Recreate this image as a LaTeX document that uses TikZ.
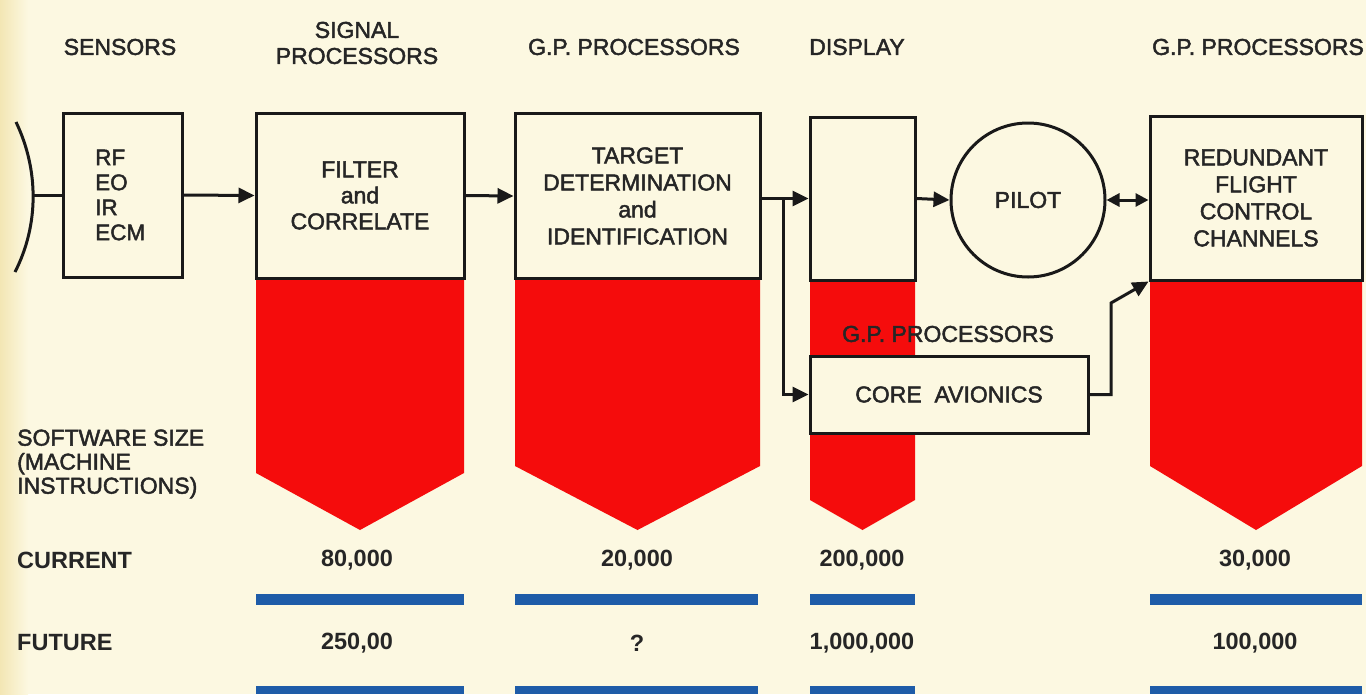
\documentclass[tikz,border=0pt]{standalone}
\usepackage{fontspec}
\setmainfont{Liberation Sans}
\newfontfamily\medfont{Liberation Sans}[FakeBold=2]
\usetikzlibrary{arrows.meta}
\definecolor{cream}{RGB}{252,248,225}
\definecolor{edge}{RGB}{243,230,180}
\definecolor{redfill}{RGB}{245,12,12}
\definecolor{bluebar}{RGB}{30,92,168}
\definecolor{ink}{RGB}{38,38,38}
\tikzset{
  box/.style={draw=black!90, line width=3pt, fill=cream, rectangle, inner sep=0pt},
  lbl/.style={text=ink, font=\medfont\fontsize{23}{26}\selectfont, align=center, inner sep=0pt},
  num/.style={text=ink, font=\bfseries\fontsize{23.5}{26}\selectfont, inner sep=0pt},
  conn/.style={line width=3pt, draw=black!90},
  arr/.style={conn, -{Triangle[length=16pt,width=15pt]}},
  darr/.style={conn, {Triangle[length=13pt,width=13pt]}-{Triangle[length=13pt,width=13pt]}},
  redshape/.style={fill=redfill},
  bar/.style={fill=bluebar}
}
\begin{document}
\begin{tikzpicture}[x=1pt,y=-1pt]
\useasboundingbox (0,0) rectangle (1366,694);
\fill[cream] (0,0) rectangle (1366,694);
\shade[left color=edge, right color=cream] (0,0) rectangle (28,694);

% red software-size pentagons
\fill[redshape] (256,278) -- (464,278) -- (464,473) -- (360,530) -- (256,473) -- cycle;
\fill[redshape] (515,278) -- (760,278) -- (760,466) -- (637.5,530) -- (515,466) -- cycle;
\fill[redshape] (810,280) -- (915,280) -- (915,500) -- (862.5,530) -- (810,500) -- cycle;
\fill[redshape] (1150,280) -- (1362,280) -- (1362,466) -- (1256,530) -- (1150,466) -- cycle;

% blue bars
\fill[bar] (256,594) rectangle (464,605);
\fill[bar] (515,594) rectangle (758,605);
\fill[bar] (810,594) rectangle (915,605);
\fill[bar] (1150,594) rectangle (1362,605);
\fill[bar] (256,686) rectangle (464,694);
\fill[bar] (515,686) rectangle (758,694);
\fill[bar] (810,686) rectangle (915,694);
\fill[bar] (1150,686) rectangle (1362,694);

% headers
\node[lbl] (hsens) at (120,47) {SENSORS};
\node[lbl] (hsig) at (357,43) {SIGNAL\\PROCESSORS};
\node[lbl] (hgp1) at (634,47) {G.P. PROCESSORS};
\node[lbl] (hdisp) at (857,47) {DISPLAY};
\node[lbl] (hgp2) at (1258,47) {G.P. PROCESSORS};

% antenna
\draw[conn] (16,122) .. controls (39,170) and (39,225) .. (15,272);
\coordinate (ant) at (33,195);

% boxes
\node[box, minimum width=119pt, minimum height=164pt] (sens) at (122.5,195) {};
\node[lbl, anchor=west, align=left, font=\medfont\fontsize{22.5}{25}\selectfont] (senstxt) at (95,195) {RF\\EO\\IR\\ECM};
\node[box, minimum width=208pt, minimum height=165pt, lbl, font=\medfont\fontsize{23}{26}\selectfont] (filt) at (360,195.5) {FILTER\\and\\CORRELATE};
\node[box, minimum width=245pt, minimum height=165pt, lbl, font=\medfont\fontsize{23}{27}\selectfont] (tgt) at (637.5,196) {TARGET\\DETERMINATION\\and\\IDENTIFICATION};
\node[box, minimum width=105pt, minimum height=163pt] (disp) at (862.5,198.5) {};
\node[box, circle, minimum size=154pt, lbl] (pilot) at (1028,200) {PILOT};
\node[box, minimum width=212pt, minimum height=164pt, lbl, font=\medfont\fontsize{23}{27}\selectfont] (flight) at (1256,198) {REDUNDANT\\FLIGHT\\CONTROL\\CHANNELS};
\node[lbl] (hgp3) at (948,334) {G.P. PROCESSORS};
\node[box, minimum width=278pt, minimum height=77pt, lbl] (core) at (949,394.5) {CORE\ \ AVIONICS};

% connectors
\draw[conn] (ant) -- (sens.west);
\draw[arr] (sens.east) -- (filt.west);
\draw[arr] (filt.east) -- (tgt.west);
\coordinate (br) at (783,198.5);
\draw[arr] (disp.west -| tgt.east) -- (disp.west);
\draw[arr] (br) |- (core.west);
\draw[arr] (disp.east) -- (pilot.west);
\draw[darr] (pilot.east) -- (pilot.east -| flight.west);
\coordinate (kink) at (1111,303);
\draw[arr] (core.east) -| (kink) -- (flight.south west);

% software size labels
\node[lbl, anchor=west, align=left, font=\medfont\fontsize{23}{24}\selectfont] (sw) at (17,464) {SOFTWARE SIZE\\(MACHINE\\INSTRUCTIONS)};
\node[num, anchor=west] (cur) at (17,560) {CURRENT};
\node[num, anchor=west] (fut) at (17,643) {FUTURE};

\node[num] (c1) at (357,560) {80,000};
\node[num] (c2) at (637,560) {20,000};
\node[num] (c3) at (862,560) {200,000};
\node[num] (c4) at (1255,560) {30,000};
\node[num] (f1) at (357,643) {250,00};
\node[num] (f2) at (637,643) {?};
\node[num] (f3) at (862,643) {1,000,000};
\node[num] (f4) at (1255,643) {100,000};
\end{tikzpicture}
\end{document}
